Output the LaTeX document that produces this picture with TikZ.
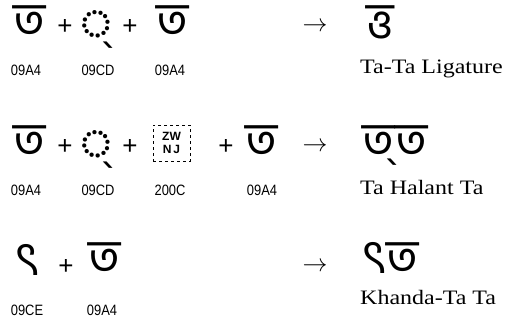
\documentclass[tikz,border=0pt]{standalone}
\usepackage{fontspec}
\setmainfont[FakeStretch=1.17]{Liberation Serif}
\setsansfont{Liberation Sans}
\newfontfamily\bnfont[Script=Bengali]{Hind Siliguri}
\newfontfamily\codefont[FakeStretch=0.86]{Liberation Sans}

\begin{document}
\begin{tikzpicture}[
		x=1pt, y=-1pt,
		every node/.style={inner sep=0pt, anchor=center},
		glyph/.style={font=\bnfont\fontsize{48}{48}\selectfont, text height=30pt, text depth=2pt},
		plussym/.style={font=\sffamily\fontsize{26}{26}\selectfont},
		codelbl/.style={font=\codefont\fontsize{15}{15}\selectfont},
		namelbl/.style={font=\fontsize{20.5}{20.5}\selectfont, anchor=west},
		arrsym/.style={font=\fontsize{26}{26}\selectfont}
	]
  \useasboundingbox (0,0) rectangle (512,322);
  % Ta + Halant + Ta
  \node (ta_a) [glyph] at (30,22) {ত};
  \node (p_a) [plussym] at (65,27) {+};
  \node (hal_a) [glyph] at (96,25) {◌্};
  \node (p_b) [plussym] at (130,27) {+};
  \node (ta_b) [glyph] at (173,22) {ত};
  \node (arr_a) [arrsym] at (315,27) {$\rightarrow$};
  \node (lig_a) [glyph] at (380,22) {ত্ত};
  \node (c_a) [codelbl] at (26,70) {09A4};
  \node (c_b) [codelbl] at (98,70) {09CD};
  \node (c_c) [codelbl] at (170,70) {09A4};
  \node (n_a) [namelbl] at (360,69) {Ta-Ta Ligature};
  % Ta + Halant + ZWNJ + Ta
  \node (ta_c) [glyph] at (30,142) {ত};
  \node (p_c) [plussym] at (65,147) {+};
  \node (hal_b) [glyph] at (96,145) {◌্};
  \node (p_d) [plussym] at (130,147) {+};
  \node (zwnj) [draw, dashed, minimum width=37, minimum height=36,
    align=center, font=\sffamily\bfseries\fontsize{12}{13}\selectfont] at (171.5,143) {ZW\\N\,J};
  \node (p_e) [plussym] at (226,147) {+};
  \node (ta_d) [glyph] at (262,142) {ত};
  \node (arr_b) [arrsym] at (315,147) {$\rightarrow$};
  \node (lig_b) [glyph] at (395,142) {ত্‌ত};
  \node (c_d) [codelbl] at (26,190) {09A4};
  \node (c_e) [codelbl] at (98,190) {09CD};
  \node (c_f) [codelbl] at (170,190) {200C};
  \node (c_g) [codelbl] at (262,190) {09A4};
  \node (n_b) [namelbl] at (360,187) {Ta Halant Ta};
  % Khanda Ta + Ta
  \node (kta) [glyph] at (27,261) {ৎ};
  \node (p_f) [plussym] at (66,267) {+};
  \node (ta_e) [glyph] at (105,259) {ত};
  \node (arr_c) [arrsym] at (315,267) {$\rightarrow$};
  \node (lig_c) [glyph] at (390,259) {ৎত};
  \node (c_h) [codelbl] at (27,310) {09CE};
  \node (c_i) [codelbl] at (102,310) {09A4};
  \node (n_c) [namelbl] at (360,297) {Khanda-Ta Ta};
\end{tikzpicture}
\end{document}
